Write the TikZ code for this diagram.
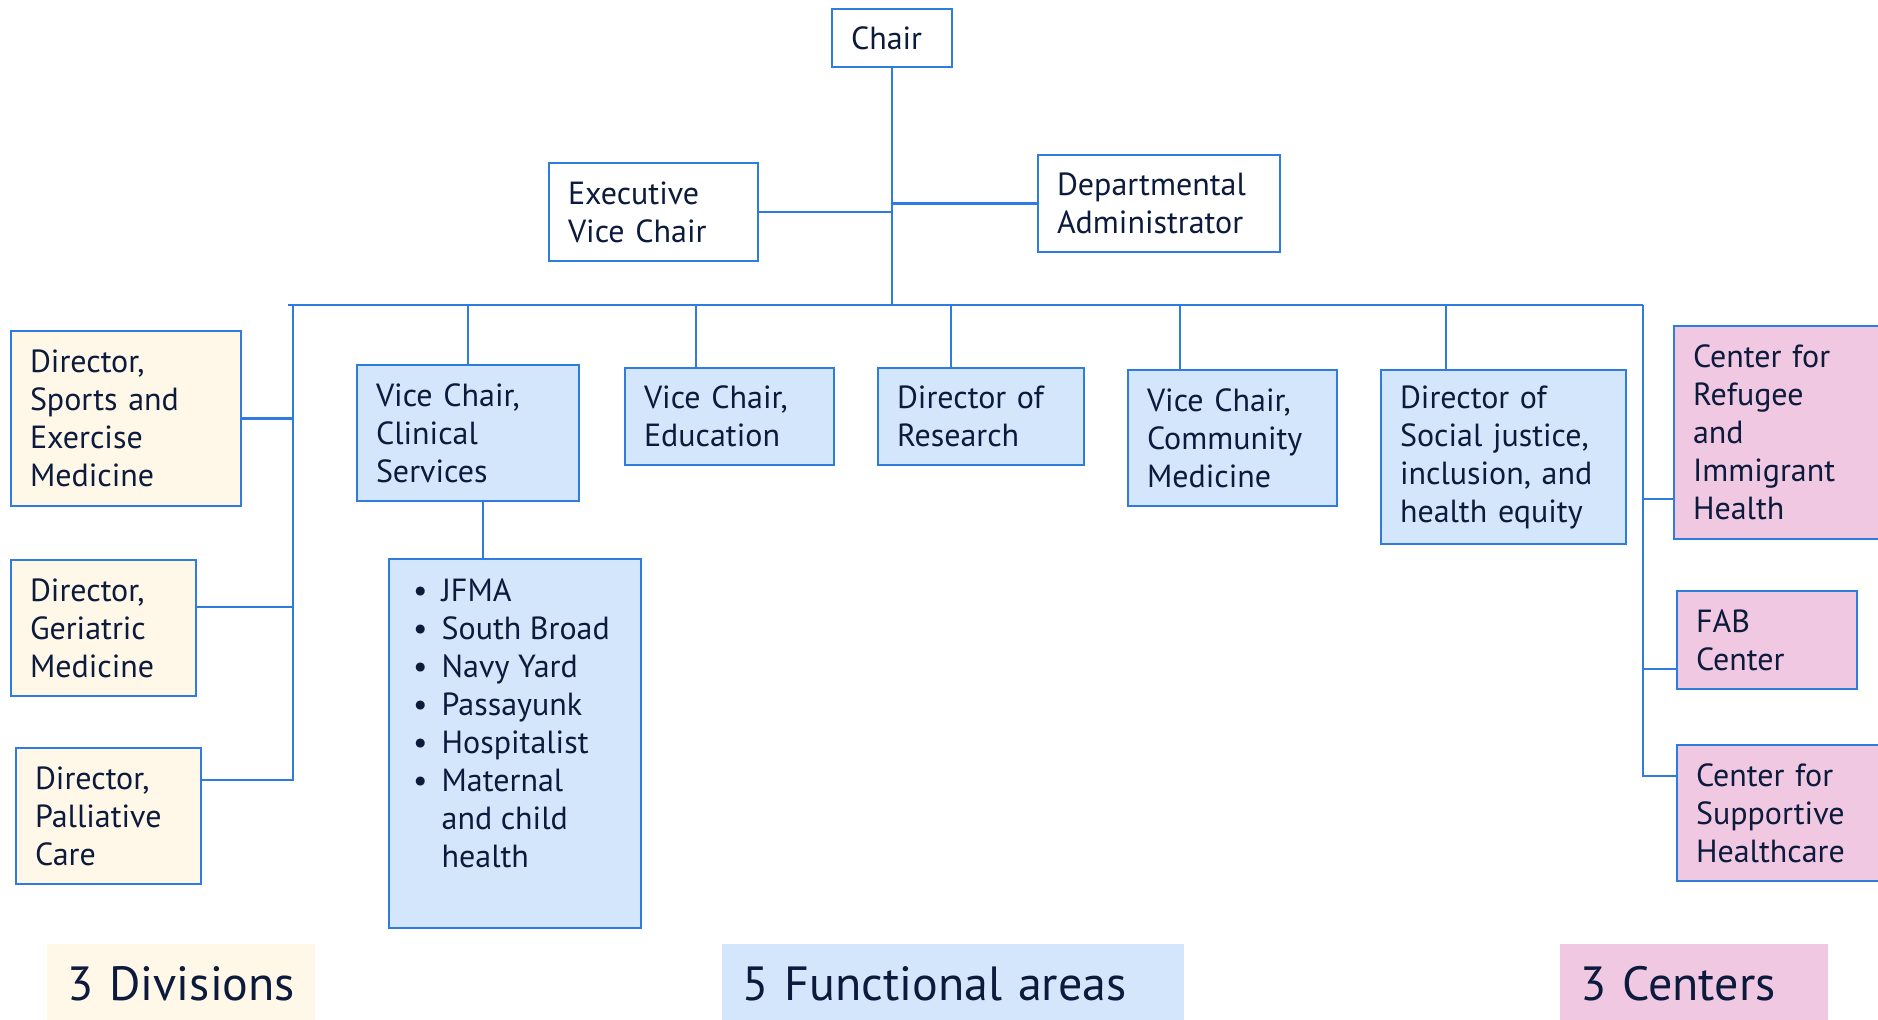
\documentclass[tikz,border=0pt]{standalone}
\usepackage{fontspec}
\setmainfont{PT Sans}
\definecolor{lineblue}{RGB}{46,125,222}
\definecolor{navy}{RGB}{12,26,60}
\definecolor{divfill}{RGB}{255,248,232}
\definecolor{areafill}{RGB}{212,230,252}
\definecolor{centerfill}{RGB}{240,200,226}
\tikzset{
  orgbox/.style={draw=lineblue, line width=1.2pt, align=left, inner xsep=9.5pt,
    inner ysep=0pt, text=navy, font=\fontsize{16}{19}\selectfont},
  topbox/.style={orgbox, fill=white},
  divbox/.style={orgbox, fill=divfill},
  areabox/.style={orgbox, fill=areafill},
  centerbox/.style={orgbox, fill=centerfill},
  tagbox/.style={fill=#1, align=left, inner xsep=10pt, inner ysep=0pt, text=navy,
    anchor=north west, minimum height=39.5pt, font=\fontsize{24}{28}\selectfont},
  link/.style={draw=lineblue, line width=1.2pt}
}
\begin{document}
\begin{tikzpicture}[x=0.5pt,y=-0.5pt]
  \useasboundingbox (0,0) rectangle (1878,1019);
  \coordinate (busL) at (288,305);
  \coordinate (busR) at (1643,305);
  \coordinate (divtop) at (293,305);

  % top level
  \node[topbox, text width=41pt, minimum height=29pt] (chair) at (892,38) {Chair};
  \node[topbox, text width=85.5pt, minimum height=49pt] (exec) at (653.5,212) {Executive\\Vice Chair};
  \node[topbox, text width=102pt, minimum height=48.5pt] (admin) at (1159,203.5) {Departmental\\Administrator};

  % divisions
  \node[divbox, text width=96pt, minimum height=87.5pt] (sports) at (126,418.5) {Director,\\Sports and\\Exercise\\Medicine};
  \node[divbox, text width=73.5pt, minimum height=68pt] (geri) at (103.5,628) {Director,\\Geriatric\\Medicine};
  \node[divbox, text width=73.5pt, minimum height=68pt] (pall) at (108.5,816) {Director,\\Palliative\\Care};

  % functional areas
  \node[areabox, text width=92pt, minimum height=68pt] (clin) at (468,433) {Vice Chair,\\Clinical\\Services};
  \node[areabox, text width=85.5pt, minimum height=48.5pt] (edu) at (729.5,416.5) {Vice Chair,\\Education};
  \node[areabox, text width=84pt, minimum height=48.5pt] (res) at (981,416.5) {Director of\\Research};
  \node[areabox, text width=85.5pt, minimum height=68pt] (comm) at (1232.5,438) {Vice Chair,\\Community\\Medicine};
  \node[areabox, text width=103.5pt, minimum height=87pt] (soc) at (1503.5,457) {Director of\\Social justice,\\inclusion, and\\health equity};
  \node[areabox, anchor=north west, inner xsep=12pt, inner ysep=8pt] (sites) at (388,558)
    {\parbox[c][168.5pt][t]{102pt}{\begin{tabular}{@{}l@{\hspace{7pt}}l@{}}
      \textbullet & JFMA\\
      \textbullet & South Broad\\
      \textbullet & Navy Yard\\
      \textbullet & Passayunk\\
      \textbullet & Hospitalist\\
      \textbullet & Maternal\\
                  & and child\\
                  & health
    \end{tabular}}};

  % centers
  \node[centerbox, text width=87pt, minimum height=106.5pt] (refu) at (1780,432.5) {Center for\\Refugee\\and\\Immigrant\\Health};
  \node[centerbox, text width=71pt, minimum height=49pt] (fab) at (1767,640) {FAB\\Center};
  \node[centerbox, text width=84pt, minimum height=68pt] (supp) at (1780,813) {Center for\\Supportive\\Healthcare};

  % group labels
  \node[tagbox=divfill, text width=114pt] (divtag) at (47,944) {\mbox{3 Divisions}};
  \node[tagbox=areafill, text width=211pt] (areatag) at (722,944) {\mbox{5 Functional areas}};
  \node[tagbox=centerfill, text width=114pt] (centag) at (1560,944) {\mbox{3 Centers}};

  % connectors
  \coordinate (gerc) at ([yshift=-24pt]geri.north east);
  \coordinate (pallc) at ([yshift=-16.5pt]pall.north east);
  \coordinate (refc) at ([yshift=20.5pt]refu.south west);
  \coordinate (fabc) at ([yshift=10.5pt]fab.south west);
  \coordinate (suppc) at ([yshift=-16pt]supp.north west);
  \coordinate (educ) at ([xshift=36pt]edu.north west);
  \coordinate (resc) at ([xshift=37pt]res.north west);
  \coordinate (commc) at ([xshift=26.5pt]comm.north west);
  \coordinate (socc) at ([xshift=33pt]soc.north west);
  \coordinate (clinc) at ([xshift=63.5pt]clin.south west);

  \draw[link] (chair.south) -- (chair.south |- busL);
  \draw[link] (exec.east) -- (exec.east -| chair.south);
  \draw[link] (admin.west) -- (admin.west -| chair.south);
  \draw[link] (busL) -- (busR);

  \draw[link] (divtop) -- (divtop |- pallc) -- (pallc);
  \draw[link] (sports.east) -- (sports.east -| divtop);
  \draw[link] (gerc) -- (gerc -| divtop);

  \draw[link] (clin.north) -- (clin.north |- busL);
  \draw[link] (educ) -- (educ |- busL);
  \draw[link] (resc) -- (resc |- busL);
  \draw[link] (commc) -- (commc |- busL);
  \draw[link] (socc) -- (socc |- busL);
  \draw[link] (clinc) -- (clinc |- sites.north);

  \draw[link] (busR) -- (busR |- suppc) -- (suppc);
  \draw[link] (refc -| busR) -- (refc);
  \draw[link] (fabc -| busR) -- (fabc);
\end{tikzpicture}
\end{document}
